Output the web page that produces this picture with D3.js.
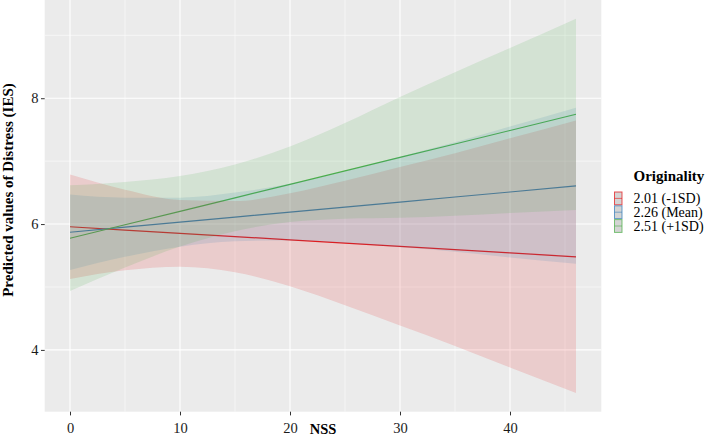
<!DOCTYPE html>
<html>
<head>
<meta charset="utf-8">
<script src="https://cdn.jsdelivr.net/npm/d3@7"></script>
<style>
  body { margin: 0; background: #fff; }
  text { font-family: "Liberation Serif", "Times New Roman", serif; }
</style>
</head>
<body>
<svg id="svgRoot" width="709" height="436"></svg>
<script>
// values
const nss = [0, 5, 10, 15, 20, 25, 30, 35, 40, 46]
const groups = ["2.01 (-1SD)", "2.26 (Mean)", "2.51 (+1SD)"]
const colors = ["#E41A1C", "#377EB8", "#4DAF4A"]

const pred_low = [5.957, 5.905, 5.853, 5.801, 5.749, 5.698, 5.646, 5.594, 5.542, 5.48]
const lo_low = [5.127, 5.265, 5.323, 5.235, 5.01, 4.708, 4.386, 4.064, 3.722, 3.315]
const hi_low = [6.787, 6.545, 6.383, 6.365, 6.49, 6.688, 6.906, 7.124, 7.362, 7.645]

const pred_mean = [5.87, 5.95, 6.03, 6.11, 6.19, 6.27, 6.35, 6.43, 6.51, 6.607]
const lo_mean = [5.27, 5.48, 5.64, 5.725, 5.74, 5.70, 5.63, 5.56, 5.47, 5.37]
const hi_mean = [6.47, 6.42, 6.42, 6.50, 6.64, 6.84, 7.07, 7.30, 7.55, 7.85]

const pred_high = [5.775, 5.989, 6.203, 6.417, 6.631, 6.845, 7.059, 7.273, 7.487, 7.745]
const lo_high = [4.935, 5.309, 5.643, 5.887, 6.031, 6.085, 6.099, 6.133, 6.177, 6.225]
const hi_high = [6.615, 6.669, 6.763, 6.947, 7.231, 7.605, 8.019, 8.413, 8.797, 9.264]

const xTicks = [0, 10, 20, 30, 40]
const xMinor = [5, 15, 25, 35, 45]
const yTicks = [4, 6, 8]
const yMinor = [3, 5, 7, 9]

let series = [
  { name: groups[0], color: colors[0], pred: pred_low, lo: lo_low, hi: hi_low },
  { name: groups[1], color: colors[1], pred: pred_mean, lo: lo_mean, hi: hi_mean },
  { name: groups[2], color: colors[2], pred: pred_high, lo: lo_high, hi: hi_high },
]

let svg = d3.select("#svgRoot")

const panel = { left: 44.7, right: 601.3, top: 0, bottom: 411.7 }

let scale_x = d3.scaleLinear().domain([-2.3, 48.3]).range([panel.left, panel.right])
let scale_y = d3.scaleLinear().domain([3.018, 9.561]).range([panel.bottom, panel.top])

// panel background
svg.append("rect")
  .attr("x", panel.left).attr("y", panel.top)
  .attr("width", panel.right - panel.left).attr("height", panel.bottom - panel.top)
  .attr("fill", "#EBEBEB")

let g_grid = svg.append("g")
g_grid.selectAll(".vminor").data(xMinor).enter().append("line")
  .attr("x1", d => scale_x(d)).attr("x2", d => scale_x(d))
  .attr("y1", panel.top).attr("y2", panel.bottom)
  .attr("stroke", "#fff").attr("stroke-width", 0.55)
g_grid.selectAll(".hminor").data(yMinor).enter().append("line")
  .attr("y1", d => scale_y(d)).attr("y2", d => scale_y(d))
  .attr("x1", panel.left).attr("x2", panel.right)
  .attr("stroke", "#fff").attr("stroke-width", 0.55)
g_grid.selectAll(".vmajor").data(xTicks).enter().append("line")
  .attr("x1", d => scale_x(d)).attr("x2", d => scale_x(d))
  .attr("y1", panel.top).attr("y2", panel.bottom)
  .attr("stroke", "#fff").attr("stroke-width", 1.1)
g_grid.selectAll(".hmajor").data(yTicks).enter().append("line")
  .attr("y1", d => scale_y(d)).attr("y2", d => scale_y(d))
  .attr("x1", panel.left).attr("x2", panel.right)
  .attr("stroke", "#fff").attr("stroke-width", 1.1)

let line = d3.line()
  .x((d, i) => scale_x(nss[i]))
  .y(d => scale_y(d))

let area = d3.area()
  .x(d => scale_x(d.x))
  .y0(d => scale_y(d.lo))
  .y1(d => scale_y(d.hi))
  .curve(d3.curveMonotoneX)

// lines first, ribbons on top (like the original)
let g_lines = svg.append("g")
series.forEach(s => {
  g_lines.append("path")
    .attr("d", line(s.pred))
    .attr("fill", "none")
    .attr("stroke", s.color)
    .attr("stroke-width", 1.2)
})

let g_ribbons = svg.append("g")
series.forEach(s => {
  let pts = nss.map((x, i) => ({ x: x, lo: s.lo[i], hi: s.hi[i] }))
  g_ribbons.append("path")
    .attr("d", area(pts))
    .attr("fill", s.color)
    .attr("fill-opacity", 0.15)
})

// axes
let g_xAxis = svg.append("g").attr("transform", "translate(0," + panel.bottom + ")")
g_xAxis.call(d3.axisBottom(scale_x).tickValues(xTicks).tickFormat(d3.format("d")).tickSize(3.7).tickPadding(7))
g_xAxis.select(".domain").remove()
g_xAxis.selectAll(".tick line").attr("stroke", "#333")
g_xAxis.selectAll(".tick text").attr("font-size", "14.5px").attr("fill", "#1a1a1a")
  .attr("font-family", "Liberation Serif")

let g_yAxis = svg.append("g").attr("transform", "translate(" + panel.left + ",0)")
g_yAxis.call(d3.axisLeft(scale_y).tickValues(yTicks).tickFormat(d3.format("d")).tickSize(3.7).tickPadding(2.5))
g_yAxis.select(".domain").remove()
g_yAxis.selectAll(".tick line").attr("stroke", "#333")
g_yAxis.selectAll(".tick text").attr("font-size", "14.5px").attr("fill", "#1a1a1a")
  .attr("font-family", "Liberation Serif")

// axis titles
svg.append("text")
  .attr("x", (panel.left + panel.right) / 2)
  .attr("y", 434)
  .attr("text-anchor", "middle")
  .attr("font-weight", "bold")
  .attr("font-size", "14.5px")
  .text("NSS")

svg.append("text")
  .attr("transform", "translate(12.5,190) rotate(-90)")
  .attr("text-anchor", "middle")
  .attr("font-weight", "bold")
  .attr("font-size", "15px")
  .text("Predicted values of Distress (IES)")

// legend
let g_legend = svg.append("g")
g_legend.append("text")
  .attr("x", 633.5).attr("y", 180.5)
  .attr("font-weight", "bold").attr("font-size", "15px")
  .text("Originality")

let keyH = 13.8
series.forEach((s, i) => {
  let y0 = 191.5 + i * keyH
  g_legend.append("rect")
    .attr("x", 614.5).attr("y", y0 + 0.5)
    .attr("width", 7.5).attr("height", keyH - 1)
    .attr("fill", "#d4d4d4")
    .attr("stroke", s.color).attr("stroke-opacity", 0.75).attr("stroke-width", 1)
  g_legend.append("line")
    .attr("x1", 614.5).attr("x2", 622)
    .attr("y1", y0 + keyH / 2).attr("y2", y0 + keyH / 2)
    .attr("stroke", s.color).attr("stroke-opacity", 0.6).attr("stroke-width", 1)
  g_legend.append("text")
    .attr("x", 633.5).attr("y", y0 + keyH / 2)
    .attr("dy", "0.35em")
    .attr("font-size", "14px")
    .text(s.name)
})
</script>
</body>
</html>
